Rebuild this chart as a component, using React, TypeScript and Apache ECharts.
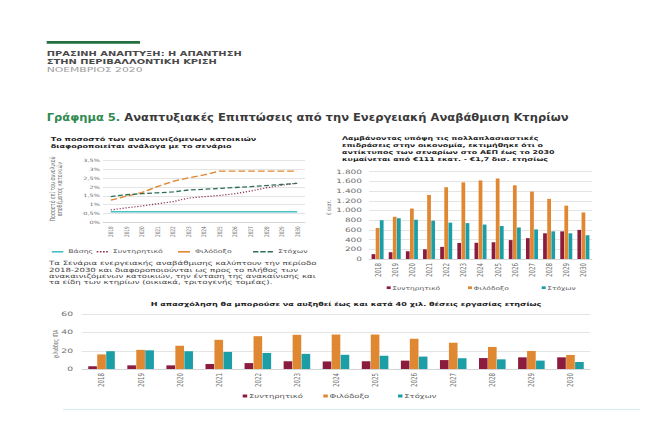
import React, { useEffect, useRef } from 'react';
import * as echarts from 'echarts';

// The reference picture is stretched horizontally; we draw on a narrower logical
// canvas and stretch it back with a CSS scaleX.
const S = 1.5;
const W = 649 / S;
const H = 426;
const FAMILY = '"DejaVu Sans"';
const FONT = '"DejaVu Sans", "Noto Sans", sans-serif';
const X = (px: number) => px / S; // picture x -> logical x

const years = ['2018', '2019', '2020', '2021', '2022', '2023', '2024', '2025', '2026', '2027', '2028', '2029', '2030'];

// Chart 1: share of renovated dwellings (%)
const shareBase = [0.6, 0.6, 0.6, 0.6, 0.6, 0.6, 0.6, 0.6, 0.6, 0.6, 0.6, 0.6, 0.6];
const shareConservative = [0.7, 0.82, 0.92, 1.05, 1.17, 1.37, 1.45, 1.52, 1.62, 1.77, 1.95, 2.1, 2.22];
const shareAmbitious = [1.25, 1.48, 1.68, 2.02, 2.32, 2.52, 2.68, 2.9, 2.9, 2.9, 2.9, 2.9, 2.9];
const shareTarget = [1.46, 1.56, 1.62, 1.67, 1.72, 1.83, 1.87, 1.92, 1.97, 2.02, 2.08, 2.14, 2.2];

// Chart 2: GDP impact (€ million)
const gdpConservative = [100, 140, 160, 200, 250, 330, 335, 345, 390, 430, 530, 570, 600];
const gdpAmbitious = [640, 870, 1040, 1320, 1480, 1580, 1620, 1660, 1520, 1390, 1240, 1100, 960];
const gdpTarget = [800, 840, 810, 790, 750, 740, 710, 680, 650, 610, 570, 530, 490];

// Chart 3: employment (thousand FTE)
const jobsConservative = [3, 4, 4, 5.5, 6.5, 8.5, 8.3, 8.5, 9.2, 9.8, 12, 12.8, 12.8];
const jobsAmbitious = [16, 21, 25.5, 32, 36, 37.5, 37.8, 37.8, 33.2, 28.8, 24.2, 19.8, 15.4];
const jobsTarget = [19.5, 20.5, 19.5, 18.7, 17.6, 16.6, 15.6, 14.6, 13.6, 11.8, 10.6, 9.2, 7.7];

const NAME_BASE = 'Βάσης';
const NAME_CONS = 'Συντηρητικό';
const NAME_AMB = 'Φιλόδοξο';
const NAME_TGT = 'Στόχων';

const C_MAROON = '#8c1c3e';
const C_ORANGE = '#df8731';
const C_TEAL = '#1b9ea5';
const C_BASE = '#46c0c4';
const C_DOT = '#8e2c56';
const C_GREEN = '#2e6f56';
const GRID_C = '#e4e4e4';
const AXIS_TXT = '#6e6e6e';

const headerLines = ['ΠΡΑΣΙΝΗ ΑΝΑΠΤΥΞΗ: Η ΑΠΑΝΤΗΣΗ', 'ΣΤΗΝ ΠΕΡΙΒΑΛΛΟΝΤΙΚΗ ΚΡΙΣΗ'];
const headerDate = 'ΝΟΕΜΒΡΙΟΣ 2020';
const figLabel = 'Γράφημα 5.';
const figTitle = 'Αναπτυξιακές Επιπτώσεις από την Ενεργειακή Αναβάθμιση Κτηρίων';
const sub1 = ['Το ποσοστό των ανακαινιζόμενων κατοικιών', 'διαφοροποιείται ανάλογα με το σενάριο'];
const sub2 = [
  'Λαμβάνοντας υπόψη τις πολλαπλασιαστικές',
  'επιδράσεις στην οικονομία, εκτιμήθηκε ότι ο',
  'αντίκτυπος των σεναρίων στο ΑΕΠ έως το 2030',
  'κυμαίνεται από €111 εκατ. - €1,7 δισ. ετησίως',
];
const note1 = [
  'Τα Σενάρια ενεργειακής αναβάθμισης καλύπτουν την περίοδο',
  '2018-2030 και διαφοροποιούνται ως προς το πλήθος των',
  'ανακαινιζόμενων κατοικιών, την ένταση της ανακαίνισης και',
  'τα είδη των κτηρίων (οικιακά, τριτογενής τομέας).',
];
const title3 = 'Η απασχόληση θα μπορούσε να αυξηθεί έως και κατά 40 χιλ. θέσεις εργασίας ετησίως';
const yName1 = ['Ποσοστό επί του συνολικού', 'αποθέματος κατοικιών'];
const yName2 = '€ εκατ.';
const yName3 = 'χιλιάδες ΙΠΑ';

const legendName = (n: string) => n.split('|')[0];
const thousands = (v: number) => {
  const s = String(Math.round(v));
  return s.length > 3 ? s.slice(0, -3) + '.' + s.slice(-3) : s;
};

// font size that gives a text a wanted width (logical px)
let ctx: CanvasRenderingContext2D | null = null;
const fit = (t: string, target: number, weight = 'normal') => {
  if (!ctx) ctx = document.createElement('canvas').getContext('2d');
  if (!ctx) return 6;
  ctx.font = `${weight} 20px ${FAMILY}`;
  const w = ctx.measureText(t).width;
  return Math.round((20 * target / w) * 100) / 100;
};

const text = (x: number, y: number, t: string, st: any, extra: any = {}) => ({
  type: 'text',
  x,
  y,
  silent: true,
  ...extra,
  style: { text: t, fontFamily: FONT, align: 'left', verticalAlign: 'middle', ...st },
});

const xCat = (gridIndex: number, fontSize: number) => ({
  type: 'category',
  gridIndex,
  data: years,
  boundaryGap: true,
  axisTick: { show: false },
  axisLine: { show: true, lineStyle: { color: '#d6d6d6', width: 0.8 } },
  axisLabel: { rotate: 90, interval: 0, fontSize, color: AXIS_TXT, margin: 4, fontFamily: FONT },
  splitLine: { show: false },
});

const yVal = (gridIndex: number, max: number, interval: number, fmt: any, fontSize: number, margin: number) => ({
  type: 'value',
  gridIndex,
  min: 0,
  max,
  interval,
  axisLine: { show: false },
  axisTick: { show: false },
  axisLabel: { formatter: fmt, fontSize, color: AXIS_TXT, margin, fontFamily: FONT },
  splitLine: { show: true, lineStyle: { color: GRID_C, width: 0.8 } },
});

const lineSeries = (name: string, data: number[], color: string, width: number, type: any) => ({
  type: 'line',
  name,
  xAxisIndex: 0,
  yAxisIndex: 0,
  data,
  symbol: 'none',
  lineStyle: { color, width, type },
  itemStyle: { color },
});

const barSeries = (name: string, data: number[], color: string, idx: number, gap: string, barGap: string) => ({
  type: 'bar',
  name,
  xAxisIndex: idx,
  yAxisIndex: idx,
  data,
  itemStyle: { color },
  barCategoryGap: gap,
  barGap,
});

// one legend per entry, so every entry sits where it sits in the reference
const legendItem = (name: string, color: string, icon: string, left: number, cy: number, iw: number, ih: number, fontSize: number, shift: number) => ({
  data: [{ name, icon, itemStyle: { color } }],
  formatter: legendName,
  left,
  top: cy - 3,
  padding: 0,
  itemWidth: iw,
  itemHeight: ih,
  selectedMode: false,
  textStyle: { fontSize, lineHeight: 6, color: '#555', fontFamily: FONT, padding: [0, 0, 0, shift] },
});

const ICON_DOTS = 'path://M0,0h1.1v1.6h-1.1zM2.1,0h1.1v1.6h-1.1zM4.2,0h1.1v1.6h-1.1zM6.3,0h1.1v1.6h-1.1z';
const ICON_DASH3 = 'path://M0,0h3.6v1.6h-3.6zM4.85,0h3.6v1.6h-3.6zM9.7,0h3.6v1.6h-3.6z';

function buildOption(): any {
  const fHead = fit(headerLines[0], X(195), 'bold');
  const fDate = fit(headerDate, X(96));
  const fTitle = fit(figLabel + ' ' + figTitle, X(522), 'bold');
  const fSub1 = fit(sub1[0], X(206), 'bold');
  const fSub2 = fit(sub2[0], X(197), 'bold');
  const fNote = fit(note1[0], X(268));
  const fT3 = fit(title3, X(392), 'bold');
  const fY1 = fit('3,5%', X(16.7));
  const fY2 = fit('1.800', X(25.7));
  const fY3 = fit('60', X(11.7));
  const fX1 = fit('2018', 10.7);
  const fX2 = fit('2018', 14);
  const fN1 = fit(yName1[0], 65);
  const fN2 = fit(yName2, 15);
  const fN3 = fit(yName3, 29);
  const fL1 = fit(NAME_CONS, X(50));
  const fL2 = fit(NAME_CONS, X(48));
  const fL3 = fit(NAME_CONS, X(54));

  return {
    animation: false,
    backgroundColor: '#ffffff',
    textStyle: { fontFamily: FONT },
    grid: [
      { left: X(103), top: 160.5, width: X(305) - X(103), height: 61.8, outerBoundsMode: 'none' },
      { left: X(369), top: 171.7, width: X(592) - X(369), height: 87.3, outerBoundsMode: 'none' },
      { left: X(82), top: 314.3, width: X(590) - X(82), height: 54.7, outerBoundsMode: 'none' },
    ],
    xAxis: [xCat(0, fX1), xCat(1, fX2), xCat(2, fX2)],
    yAxis: [
      yVal(0, 3.5, 0.5, (v: number) => String(v).replace('.', ',') + '%', fY1, X(3)),
      yVal(1, 1800, 200, thousands, fY2, X(7)),
      yVal(2, 60, 20, (v: number) => String(v), fY3, X(9)),
    ],
    legend: [
      legendItem(NAME_BASE, C_BASE, 'rect', X(51.7), 251.8, X(11.6), 1.6, fL1, -1.7),
      legendItem(NAME_CONS + '|1', C_DOT, ICON_DOTS, X(96.7), 251.8, X(11.3), 1.6, fL1, -1.7),
      legendItem(NAME_AMB + '|1', C_ORANGE, 'rect', X(178), 251.8, X(12), 1.6, fL1, -1.7),
      legendItem(NAME_TGT + '|1', C_GREEN, ICON_DASH3, X(253), 251.8, X(20), 1.6, fL1, -1.7),
      legendItem(NAME_CONS + '|2', C_MAROON, 'rect', X(386.7), 287.7, X(4), 2.7, fL2, -4),
      legendItem(NAME_AMB + '|2', C_ORANGE, 'rect', X(468), 287.7, X(4), 2.7, fL2, -4),
      legendItem(NAME_TGT + '|2', C_TEAL, 'rect', X(541.7), 287.7, X(4), 2.7, fL2, -4),
      legendItem(NAME_CONS + '|3', C_MAROON, 'rect', X(242.7), 396, X(4.5), 3, fL3, -3.8),
      legendItem(NAME_AMB + '|3', C_ORANGE, 'rect', X(323.3), 396, X(4.5), 3, fL3, -3.8),
      legendItem(NAME_TGT + '|3', C_TEAL, 'rect', X(398), 396, X(4.5), 3, fL3, -3.8),
    ],
    series: [
      lineSeries(NAME_BASE, shareBase, C_BASE, 1.6, 'solid'),
      lineSeries(NAME_CONS + '|1', shareConservative, C_DOT, 1.2, [0.8, 1.2]),
      lineSeries(NAME_AMB + '|1', shareAmbitious, C_ORANGE, 1.3, [4.5, 2]),
      lineSeries(NAME_TGT + '|1', shareTarget, C_GREEN, 1.3, [3.2, 1.7]),
      barSeries(NAME_CONS + '|2', gdpConservative, C_MAROON, 1, '30%', '10%'),
      barSeries(NAME_AMB + '|2', gdpAmbitious, C_ORANGE, 1, '30%', '10%'),
      barSeries(NAME_TGT + '|2', gdpTarget, C_TEAL, 1, '30%', '10%'),
      barSeries(NAME_CONS + '|3', jobsConservative, C_MAROON, 2, '32%', '4%'),
      barSeries(NAME_AMB + '|3', jobsAmbitious, C_ORANGE, 2, '32%', '4%'),
      barSeries(NAME_TGT + '|3', jobsTarget, C_TEAL, 2, '32%', '4%'),
    ],
    graphic: [
      { type: 'rect', x: X(46.7), y: 41, silent: true, shape: { width: X(140) - X(46.7), height: 2.7 }, style: { fill: '#23703f' } },
      text(X(46.7), 53.3, headerLines[0], { fontSize: fHead, fontWeight: 'bold', fill: '#4a4a4a' }),
      text(X(46.7), 61.7, headerLines[1], { fontSize: fHead, fontWeight: 'bold', fill: '#4a4a4a' }),
      text(X(46.7), 69.5, headerDate, { fontSize: fDate, fill: '#9c9c9c' }),
      text(X(46.7), 118.3, '{g|' + figLabel + '} ' + figTitle, {
        fontSize: fTitle,
        fontWeight: 'bold',
        fill: '#3a3a3a',
        rich: { g: { fill: '#2f8a50', fontSize: fTitle, fontWeight: 'bold', fontFamily: FONT } },
      }, { scaleY: 1.25 }),
      text(X(50.7), 135.5, sub1.join('\n'), { fontSize: fSub1, fontWeight: 'bold', fill: '#222', lineHeight: 7, verticalAlign: 'top' }),
      text(X(342), 135, sub2.join('\n'), { fontSize: fSub2, fontWeight: 'bold', fill: '#222', lineHeight: 7, verticalAlign: 'top' }),
      text(X(49), 260.4, note1.join('\n'), { fontSize: fNote, fill: '#444', lineHeight: 6.2, verticalAlign: 'top' }),
      text(X(346), 304.3, title3, { fontSize: fT3, fontWeight: 'bold', fill: '#222', align: 'center' }),
      text(X(55.5), 189, yName1.join('\n'), { fontSize: fN1, fill: '#6a6a6a', lineHeight: X(7.7), align: 'center' }, { rotation: Math.PI / 2 }),
      text(X(328.7), 207.5, yName2, { fontSize: fN2, fill: '#6a6a6a', align: 'center' }, { rotation: Math.PI / 2 }),
      text(X(55.5), 344, yName3, { fontSize: fN3, fill: '#6a6a6a', align: 'center' }, { rotation: Math.PI / 2 }),
      { type: 'line', silent: true, shape: { x1: X(63), y1: 409.5, x2: X(640), y2: 409.5 }, style: { stroke: '#d2eef0', lineWidth: 1 } },
    ],
  };
}

export default function App() {
  const ref = useRef<HTMLDivElement>(null);
  useEffect(() => {
    if (!ref.current) return;
    const chart = echarts.init(ref.current, null, { renderer: 'svg' });
    chart.setOption(buildOption());
    return () => chart.dispose();
  }, []);
  return (
    <div style={{ position: 'fixed', left: 0, top: 0, width: 649, height: 426, overflow: 'hidden', background: '#fff' }}>
      <div ref={ref} style={{ width: W, height: H, transform: `scaleX(${S})`, transformOrigin: '0 0' }} />
    </div>
  );
}
